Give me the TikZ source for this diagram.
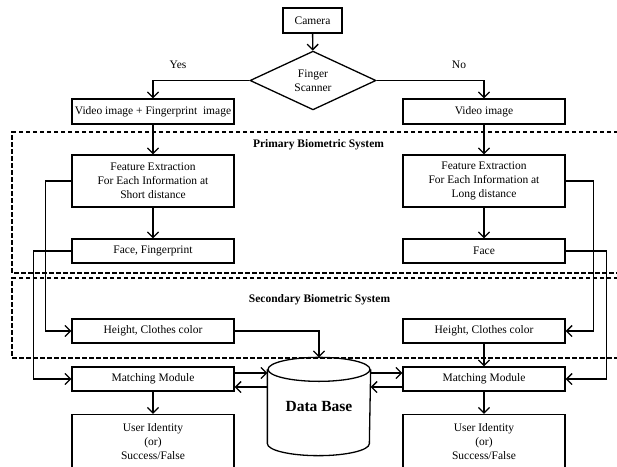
\documentclass[tikz,border=0pt]{standalone}
\usepackage{fontspec}
\setmainfont{Liberation Serif}
\usetikzlibrary{shapes.geometric,arrows.meta}

\begin{document}
\begin{tikzpicture}[x=1pt,y=-1pt,line width=1.3pt,
  font=\fontsize{11.5}{14}\selectfont,
  blk/.style={draw,align=center,inner sep=1pt,minimum width=162pt},
  arr/.style={-{Straight Barb[length=5.5pt,width=11pt]}},
  sys/.style={line width=1.1pt,dash pattern=on 4.5pt off 2.5pt}]
  \useasboundingbox (0,0) rectangle (617,466);
  % dashed frames of the two systems
  \draw[sys] (625,132) -- (12,132) -- (12,273) -- (625,273);
  \draw[sys] (625,278) -- (12,278) -- (12,358) -- (625,358);
  \node[font=\fontsize{11.5}{14}\selectfont\bfseries] (prim) at (318.5,145) {Primary Biometric System};
  \node[font=\fontsize{11.5}{14}\selectfont\bfseries] (sec) at (319.5,300) {Secondary Biometric System};

  \node[blk,minimum width=59pt,minimum height=25pt] (cam) at (312.5,20.5) {Camera};
  \node[draw,diamond,minimum width=126pt,minimum height=55pt,inner sep=0pt,align=center] (scan) at (313,80.5) {Finger\\Scanner};
  \node (yes) at (178,65) {Yes};
  \node (no) at (459,65) {No};

  \node[blk,minimum height=25pt] (vfp) at (153,111.5) {Video image + Fingerprint\ \ image};
  \node[blk,minimum height=25pt] (vid) at (484,111.5) {Video image};
  \node[blk,minimum height=52pt] (feL) at (153,181) {Feature Extraction\\For Each Information at\\Short distance};
  \node[blk,minimum height=52pt] (feR) at (484,181) {Feature Extraction\\For Each Information at\\Long distance};
  \node[blk,minimum height=24pt] (faceL) at (153,251) {Face, Fingerprint};
  \node[blk,minimum height=24pt] (faceR) at (484,251) {Face};
  \node[blk,minimum height=24pt] (htL) at (153,331) {Height, Clothes color};
  \node[blk,minimum height=24pt] (htR) at (484,331) {Height, Clothes color};
  \node[blk,minimum height=24pt] (mmL) at (153,379) {Matching Module};
  \node[blk,minimum height=24pt] (mmR) at (484,379) {Matching Module};
  \node[blk,minimum height=55pt] (uiL) at (153,442) {User Identity\\(or)\\Success/False};
  \node[blk,minimum height=55pt] (uiR) at (484,442) {User Identity\\(or)\\Success/False};

  % data base cylinder
  \node[inner sep=0pt,minimum width=102pt,minimum height=97pt,font=\fontsize{15.5}{18}\selectfont\bfseries] (db) at (319,406.5) {\raisebox{-10pt}{Data Base}};
  \draw ([yshift=-12pt]db.north) ellipse [x radius=51pt,y radius=12pt];
  \draw ([yshift=-12pt]db.north west) -- ([yshift=12pt]db.south west)
    arc [start angle=180,end angle=360,x radius=51pt,y radius=12pt] -- ([yshift=-12pt]db.north east);

  % connectors
  \draw[arr] (cam) -- (scan);
  \draw[arr] (scan.west) -| (vfp.north);
  \draw[arr] (scan.east) -| (vid.north);
  \foreach \a/\b in {vfp/feL,vid/feR,feL/faceL,feR/faceR,htR/mmR,mmL/uiL,mmR/uiR}{
    \draw[arr] (\a) -- (\b);
  }
  \draw[arr] (feL.west) -- ++(-26,0) |- (htL.west);
  \draw[arr] (faceL.west) -- ++(-38,0) |- (mmL.west);
  \draw[arr] (feR.east) -- ++(28,0) |- (htR.east);
  \draw[arr] (faceR.east) -- ++(41,0) |- (mmR.east);
  \draw[arr] (htL.east) -| (db.north);
  \draw[arr] ([yshift=6pt]mmL.east) -- ([yshift=6pt]mmL.east -| db.west);
  \draw[arr] ([yshift=-8pt]mmL.east -| db.west) -- ([yshift=-8pt]mmL.east);
  \draw[arr] ([yshift=6pt]mmR.west -| db.east) -- ([yshift=6pt]mmR.west);
  \draw[arr] ([yshift=-8pt]mmR.west) -- ([yshift=-8pt]mmR.west -| db.east);
\end{tikzpicture}
\end{document}
